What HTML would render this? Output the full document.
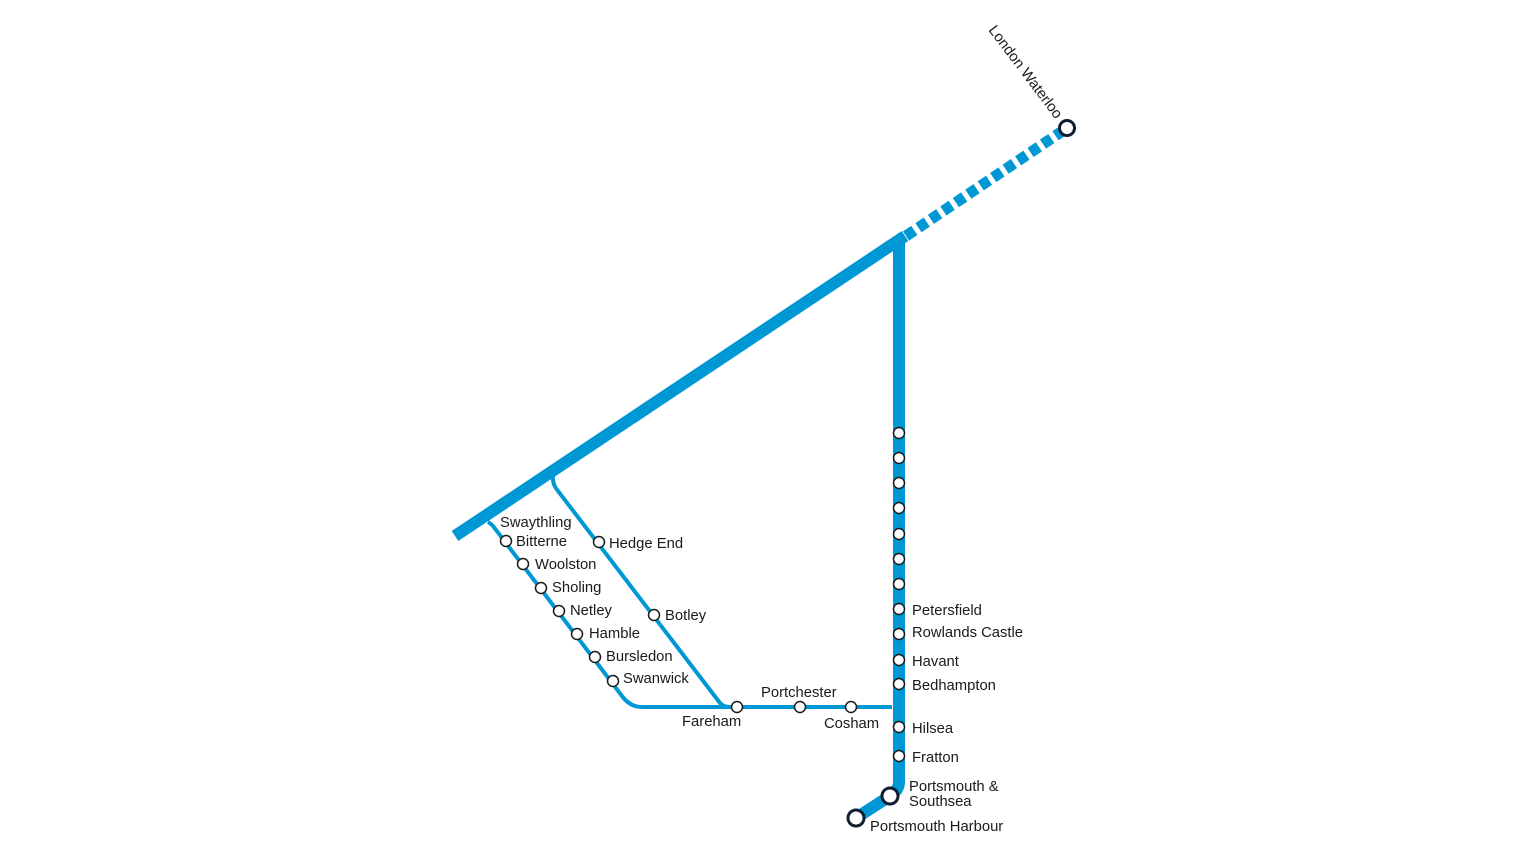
<!DOCTYPE html>
<html><head><style>html,body{margin:0;padding:0;background:#fff;}svg{display:block}</style></head>
<body>
<svg width="1520" height="856" viewBox="0 0 1520 856" xmlns="http://www.w3.org/2000/svg" font-family="Liberation Sans, sans-serif" font-size="14.8" fill="#1a1a1a">
<g stroke="#0098d4" fill="none">
<line x1="455" y1="536" x2="905" y2="236" stroke-width="12"/>
<line x1="906" y1="236" x2="1067" y2="128" stroke-width="11" stroke-dasharray="10,5"/>
<path d="M899,238 L899,782 Q899,790 890,796 L856,818" stroke-width="12"/>
<path d="M488,522 Q492,524 496,530 L622,696 Q630,707 642,707 L892,707" stroke-width="4"/>
<path d="M553,476 Q552,484 558,491 L720,703 Q723,707 730,707" stroke-width="4"/>
</g>
<g fill="#fff" stroke="#1a1a1a" stroke-width="1.5">
<circle cx="506" cy="541" r="5.5"/><circle cx="523" cy="564" r="5.5"/><circle cx="541" cy="588" r="5.5"/><circle cx="559" cy="611" r="5.5"/><circle cx="577" cy="634" r="5.5"/><circle cx="595" cy="657" r="5.5"/><circle cx="613" cy="681" r="5.5"/>
<circle cx="599" cy="542" r="5.5"/><circle cx="654" cy="615" r="5.5"/>
<circle cx="737" cy="707" r="5.5"/><circle cx="800" cy="707" r="5.5"/><circle cx="851" cy="707" r="5.5"/>
<circle cx="899" cy="433" r="5.5"/><circle cx="899" cy="458" r="5.5"/><circle cx="899" cy="483" r="5.5"/><circle cx="899" cy="508" r="5.5"/><circle cx="899" cy="534" r="5.5"/><circle cx="899" cy="559" r="5.5"/><circle cx="899" cy="584" r="5.5"/><circle cx="899" cy="609" r="5.5"/><circle cx="899" cy="634" r="5.5"/><circle cx="899" cy="660" r="5.5"/><circle cx="899" cy="684" r="5.5"/><circle cx="899" cy="727" r="5.5"/><circle cx="899" cy="756" r="5.5"/>
</g>
<g fill="#fff" stroke="#0f1e2e" stroke-width="3">
<circle cx="1067" cy="128" r="7.5"/><circle cx="890" cy="796" r="8"/><circle cx="856" cy="818" r="8"/>
</g>
<text x="500" y="527">Swaythling</text>
<text x="516" y="546">Bitterne</text>
<text x="535" y="569">Woolston</text>
<text x="552" y="592">Sholing</text>
<text x="570" y="615">Netley</text>
<text x="589" y="638">Hamble</text>
<text x="606" y="661">Bursledon</text>
<text x="623" y="683">Swanwick</text>
<text x="609" y="548">Hedge End</text>
<text x="665" y="620">Botley</text>
<text x="682" y="726">Fareham</text>
<text x="761" y="697">Portchester</text>
<text x="824" y="728">Cosham</text>
<text x="912" y="615">Petersfield</text>
<text x="912" y="637">Rowlands Castle</text>
<text x="912" y="666">Havant</text>
<text x="912" y="690">Bedhampton</text>
<text x="912" y="733">Hilsea</text>
<text x="912" y="762">Fratton</text>
<text x="909" y="791">Portsmouth &amp;</text>
<text x="909" y="806">Southsea</text>
<text x="870" y="831">Portsmouth Harbour</text>
<text x="0" y="0" transform="translate(988,30) rotate(53)">London Waterloo</text>
</svg>
</body></html>
